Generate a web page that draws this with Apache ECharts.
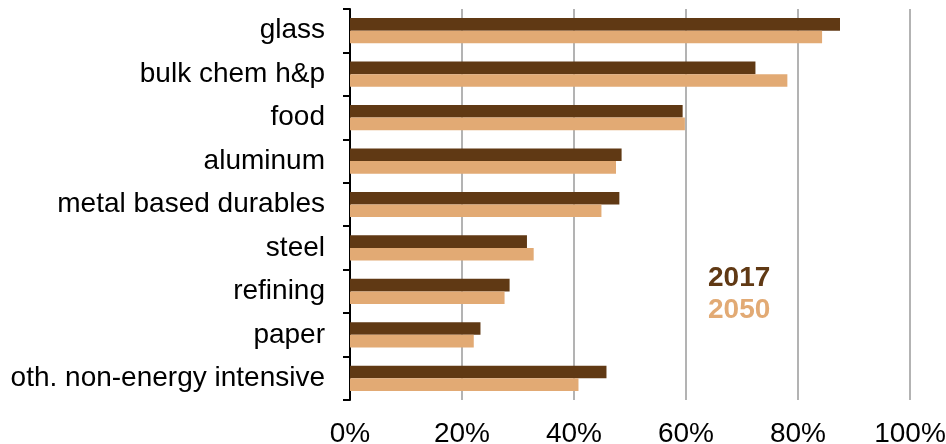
<!DOCTYPE html>
<html>
<head>
<meta charset="utf-8">
<script src="https://cdn.jsdelivr.net/npm/echarts@6/dist/echarts.min.js"></script>
<style>html,body{margin:0;padding:0;background:#fff}#c{width:946px;height:444px}</style>
</head>
<body>
<div id="c"></div>
<script>
var categories = ['glass', 'bulk chem h&p', 'food', 'aluminum', 'metal based durables', 'steel', 'refining', 'paper', 'oth. non-energy intensive'];
var values2017 = [0.875, 0.724, 0.594, 0.485, 0.481, 0.316, 0.285, 0.233, 0.458];
var values2050 = [0.843, 0.781, 0.598, 0.475, 0.449, 0.328, 0.276, 0.221, 0.408];
var xTicks = [0, 0.2, 0.4, 0.6, 0.8, 1.0];

var chart = echarts.init(document.getElementById('c'), null, {renderer: 'canvas'});
var font = '"Liberation Sans", Arial, sans-serif';
chart.setOption({
  animation: false,
  textStyle: {fontFamily: font},
  grid: {left: 350, right: 36, top: 9, bottom: 44, containLabel: false, outerBoundsMode: 'none'},
  legend: {
    orient: 'vertical',
    left: 698, top: 259,
    itemWidth: 0, itemHeight: 0, itemGap: 4,
    selectedMode: false,
    textStyle: {fontFamily: font, fontSize: 28, fontWeight: 'bold'},
    data: [
      {name: '2017', icon: 'none', textStyle: {color: '#603914'}},
      {name: '2050', icon: 'none', textStyle: {color: '#e2aa74'}}
    ]
  },
  xAxis: {
    type: 'value',
    min: xTicks[0], max: xTicks[xTicks.length - 1], interval: 0.2,
    axisLine: {show: false},
    axisTick: {show: false},
    splitLine: {show: true, lineStyle: {color: '#b3b3b3', width: 2}},
    axisLabel: {
      fontFamily: font, fontSize: 28, color: '#000', margin: 20,
      formatter: function (v) { return Math.round(v * 100) + '%'; }
    }
  },
  yAxis: {
    type: 'category',
    data: categories,
    inverse: true,
    axisLine: {show: true, lineStyle: {color: '#000', width: 2}},
    axisTick: {show: true, length: 7, lineStyle: {color: '#000', width: 2}},
    axisLabel: {fontFamily: font, fontSize: 28, color: '#000', margin: 25},
    splitLine: {show: false}
  },
  series: [
    {name: '2017', type: 'bar', data: values2017, barGap: '0%', barCategoryGap: '42%',
     itemStyle: {color: '#603914'}},
    {name: '2050', type: 'bar', data: values2050, barGap: '0%', barCategoryGap: '42%',
     itemStyle: {color: '#e2aa74'}}
  ]
});
</script>
</body>
</html>
